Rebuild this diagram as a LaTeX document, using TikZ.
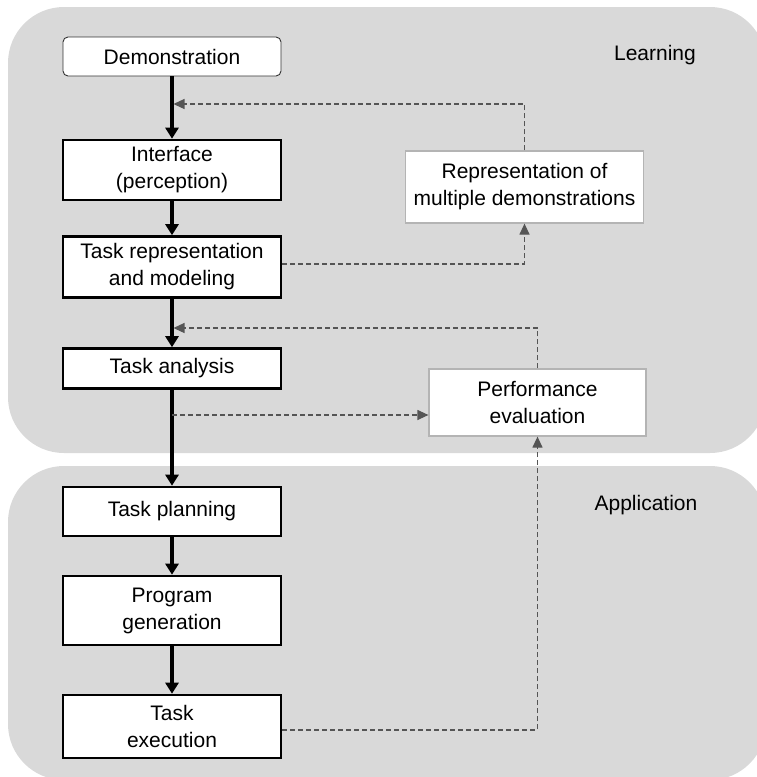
\documentclass[tikz,border=0pt]{standalone}
\usepackage{fontspec}
\setmainfont{Liberation Sans}
\usetikzlibrary{arrows.meta}
\definecolor{panelgray}{HTML}{D9D9D9}
\definecolor{dashgray}{HTML}{555555}
\definecolor{sidegray}{HTML}{B4B4B4}
\begin{document}
\begin{tikzpicture}[x=1pt,y=-1pt,
  panel/.style={fill=panelgray, draw=none, rounded corners=56pt},
  txt/.style={font=\fontsize{21}{27}\selectfont, align=center},
  mainbox/.style={txt, draw=black, line width=2.6pt, fill=white, inner sep=0pt, minimum width=218pt},
  startbox/.style={txt, draw=black!80, line width=0.9pt, fill=white, inner sep=0pt, minimum width=218pt, rounded corners=5pt},
  sidebox/.style={txt, draw=sidegray, line width=1.2pt, fill=white, inner sep=0pt},
  flow/.style={draw=black, line width=3.2pt, -{Triangle[length=11pt,width=13pt]}},
  fb/.style={draw=dashgray, line width=1.2pt, dash pattern=on 5pt off 3pt, -{Triangle[length=11pt,width=10pt]}},
  paneltitle/.style={font=\fontsize{21}{27}\selectfont}
]
\clip (0,0) rectangle (757,777);
\fill[white] (0,0) rectangle (757,777);
% panels
\path[panel] (8,7) rectangle (766,453);
\path[panel] (8,466) rectangle (766,780);
\node[paneltitle] (learn) at (655,55) {Learning};
\node[paneltitle] (appl) at (646,505) {Application};
% main flow boxes
\node[startbox, minimum height=39pt] (demo) at (172,56.5) {Demonstration};
\node[mainbox, minimum height=60pt] (iface) at (172,170) {Interface\\(perception)};
\node[mainbox, minimum height=61pt] (taskrep) at (172,267) {Task representation\\and modeling};
\node[mainbox, minimum height=40pt] (analysis) at (172,368.5) {Task analysis};
\node[mainbox, minimum height=49pt] (planning) at (172,511.5) {Task planning};
\node[mainbox, minimum height=69pt] (program) at (172,610.5) {Program\\generation};
\node[mainbox, minimum height=63pt] (exec) at (172,726.5) {Task\\execution};
% side boxes
\node[sidebox, minimum width=238pt, minimum height=72pt] (rep) at (524.5,187) {Representation of\\multiple demonstrations};
\node[sidebox, minimum width=217pt, minimum height=67pt] (perf) at (537.5,402.5) {Performance\\evaluation};
% main arrows
\draw[flow] (demo) -- (iface);
\draw[flow] (iface) -- (taskrep);
\draw[flow] (taskrep) -- (analysis);
\draw[flow] (analysis) -- (planning);
\draw[flow] (planning) -- (program);
\draw[flow] (program) -- (exec);
% feedback connectors
\coordinate (j1) at (173.5,104);
\coordinate (j3) at (173.5,328);
\coordinate (j4) at (172,415);
\draw[fb] (rep.north) |- (j1);
\draw[fb] ([yshift=3pt]taskrep.east) -| (rep.south);
\draw[fb] (perf.north) |- (j3);
\draw[fb] (j4) -- (perf.west |- j4);
\draw[fb] ([yshift=-3.5pt]exec.east) -| (perf.south);
\end{tikzpicture}
\end{document}
